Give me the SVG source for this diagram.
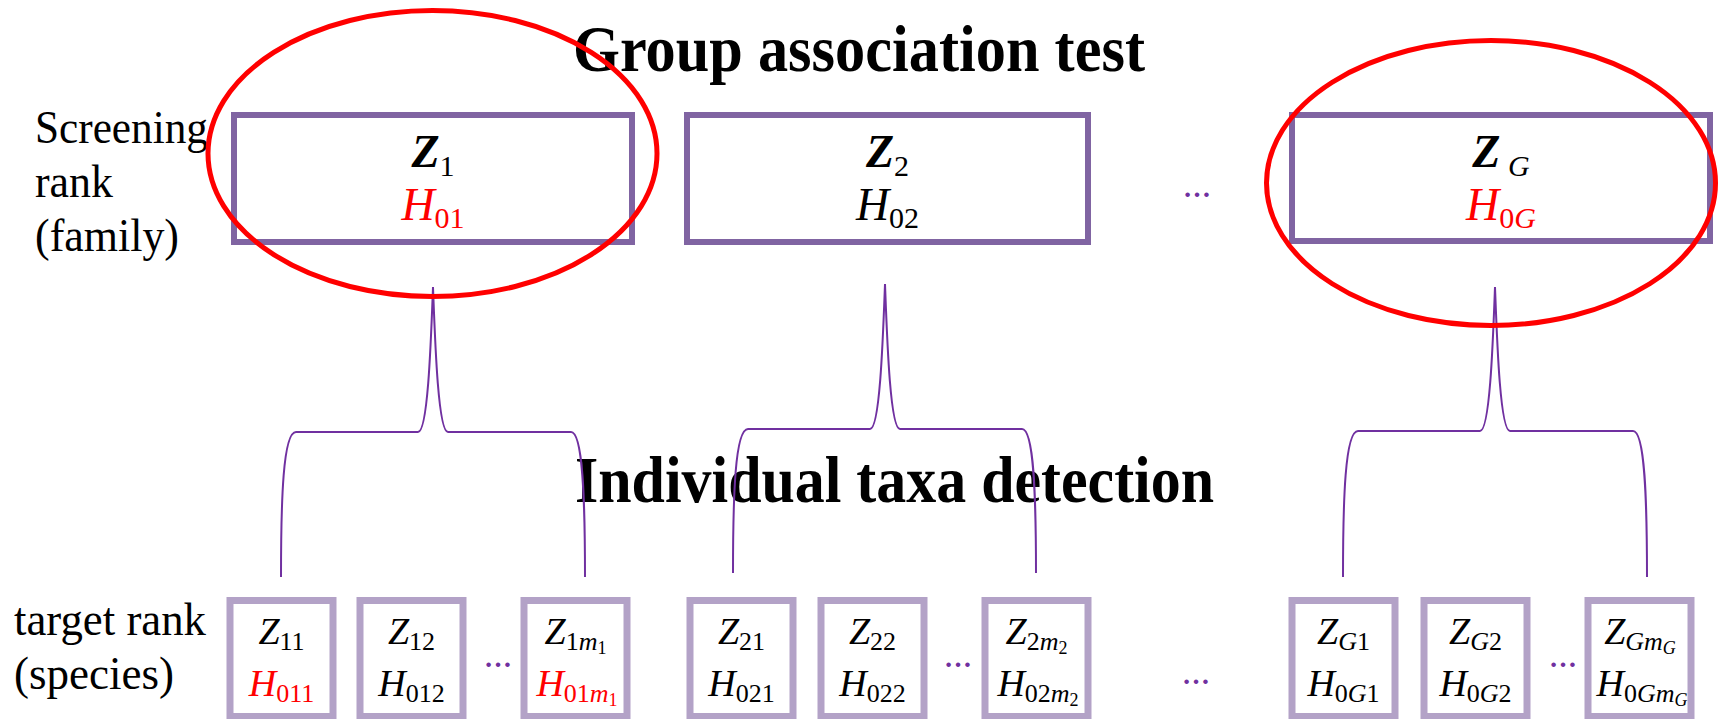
<svg xmlns="http://www.w3.org/2000/svg" width="1721" height="719" viewBox="0 0 1721 719">
<style>
text{font-family:"Liberation Serif","Times New Roman",serif;fill:#000}
.title{font-size:65px;font-weight:bold}
.lab{font-size:47px}
.zb{font-size:46px;font-weight:bold;font-style:italic}
.hi{font-size:46px;font-style:italic}
.sub{font-size:30px}
.subi{font-size:30px;font-style:italic}
.bz{font-size:38px;font-style:italic}
.bs{font-size:26px}
.bsi{font-size:26px;font-style:italic}
.bss{font-size:18px}
.bssi{font-size:18px;font-style:italic}
.red{fill:#FF0000}
.dots{font-size:28px;font-weight:bold;fill:#7030A0}
.top{fill:#fff;stroke:#8064A2;stroke-width:6}
.bot{fill:#fff;stroke:#B3A2C7;stroke-width:7}
.brace{fill:none;stroke:#7030A0;stroke-width:2}
.hl{fill:none;stroke:#FF0000;stroke-width:5}
</style>

<g id="titles">
<text class="title" x="573" y="71" textLength="572" lengthAdjust="spacingAndGlyphs">Group association test</text>
<text class="title" x="575" y="502" textLength="639" lengthAdjust="spacingAndGlyphs">Individual taxa detection</text>
</g>

<g id="labels">
<text class="lab" x="35" y="143" textLength="173" lengthAdjust="spacingAndGlyphs">Screening</text>
<text class="lab" x="35" y="197" textLength="78" lengthAdjust="spacingAndGlyphs">rank</text>
<text class="lab" x="35" y="251" textLength="144" lengthAdjust="spacingAndGlyphs">(family)</text>
<text class="lab" x="14" y="635" textLength="192" lengthAdjust="spacingAndGlyphs">target rank</text>
<text class="lab" x="14" y="689" textLength="160" lengthAdjust="spacingAndGlyphs">(species)</text>
</g>

<g id="family-1">
<rect class="top" x="234" y="115" width="398" height="127"/>
<text x="433" y="167" text-anchor="middle"><tspan class="zb">Z</tspan><tspan class="sub" dy="9">1</tspan></text>
<text x="433" y="220" text-anchor="middle"><tspan class="hi red">H</tspan><tspan class="sub red" dy="8">01</tspan></text>
</g>
<g id="family-2">
<rect class="top" x="687" y="115" width="401" height="127"/>
<text x="887.5" y="167" text-anchor="middle"><tspan class="zb">Z</tspan><tspan class="sub" dy="9">2</tspan></text>
<text x="887.5" y="220" text-anchor="middle"><tspan class="hi">H</tspan><tspan class="sub" dy="8">02</tspan></text>
</g>
<g id="family-dots">
<text class="dots" x="1197" y="197" text-anchor="middle">…</text>
</g>
<g id="family-G">
<rect class="top" x="1292" y="115" width="418" height="126"/>
<text x="1501" y="167" text-anchor="middle"><tspan class="zb">Z</tspan><tspan class="subi" dy="9"> G</tspan></text>
<text x="1501" y="220" text-anchor="middle"><tspan class="hi red">H</tspan><tspan class="sub red" dy="8">0</tspan><tspan class="subi red">G</tspan></text>
</g>

<g id="species-11">
<rect class="bot" x="230" y="600.5" width="103" height="116"/>
<text x="281.5" y="644" text-anchor="middle"><tspan class="bz">Z</tspan><tspan class="bs" dy="6">11</tspan></text>
<text x="281.5" y="696" text-anchor="middle"><tspan class="bz red">H</tspan><tspan class="bs red" dy="6">011</tspan></text>
</g>
<g id="species-12">
<rect class="bot" x="360" y="600.5" width="103" height="116"/>
<text x="411.5" y="644" text-anchor="middle"><tspan class="bz">Z</tspan><tspan class="bs" dy="6">12</tspan></text>
<text x="411.5" y="696" text-anchor="middle"><tspan class="bz">H</tspan><tspan class="bs" dy="6">012</tspan></text>
</g>
<g id="dots-1"><text class="dots" x="498" y="667" text-anchor="middle">…</text></g>
<g id="species-1m1">
<rect class="bot" x="524" y="600.5" width="103" height="116"/>
<text x="575.5" y="644" text-anchor="middle"><tspan class="bz">Z</tspan><tspan class="bs" dy="6">1</tspan><tspan class="bsi">m</tspan><tspan class="bss" dy="4">1</tspan></text>
<text x="577" y="696" text-anchor="middle"><tspan class="bz red">H</tspan><tspan class="bs red" dy="6">01</tspan><tspan class="bsi red">m</tspan><tspan class="bss red" dy="4">1</tspan></text>
</g>

<g id="species-21">
<rect class="bot" x="690" y="600.5" width="103" height="116"/>
<text x="741.5" y="644" text-anchor="middle"><tspan class="bz">Z</tspan><tspan class="bs" dy="6">21</tspan></text>
<text x="741.5" y="696" text-anchor="middle"><tspan class="bz">H</tspan><tspan class="bs" dy="6">021</tspan></text>
</g>
<g id="species-22">
<rect class="bot" x="821" y="600.5" width="103" height="116"/>
<text x="872.5" y="644" text-anchor="middle"><tspan class="bz">Z</tspan><tspan class="bs" dy="6">22</tspan></text>
<text x="872.5" y="696" text-anchor="middle"><tspan class="bz">H</tspan><tspan class="bs" dy="6">022</tspan></text>
</g>
<g id="dots-2"><text class="dots" x="958" y="667" text-anchor="middle">…</text></g>
<g id="species-2m2">
<rect class="bot" x="985" y="600.5" width="103" height="116"/>
<text x="1036.5" y="644" text-anchor="middle"><tspan class="bz">Z</tspan><tspan class="bs" dy="6">2</tspan><tspan class="bsi">m</tspan><tspan class="bss" dy="4">2</tspan></text>
<text x="1038" y="696" text-anchor="middle"><tspan class="bz">H</tspan><tspan class="bs" dy="6">02</tspan><tspan class="bsi">m</tspan><tspan class="bss" dy="4">2</tspan></text>
</g>

<g id="dots-mid"><text class="dots" x="1196" y="684" text-anchor="middle">…</text></g>

<g id="species-G1">
<rect class="bot" x="1292" y="600.5" width="103" height="116"/>
<text x="1343.5" y="644" text-anchor="middle"><tspan class="bz">Z</tspan><tspan class="bsi" dy="6">G</tspan><tspan class="bs">1</tspan></text>
<text x="1343.5" y="696" text-anchor="middle"><tspan class="bz">H</tspan><tspan class="bs" dy="6">0</tspan><tspan class="bsi">G</tspan><tspan class="bs">1</tspan></text>
</g>
<g id="species-G2">
<rect class="bot" x="1424" y="600.5" width="103" height="116"/>
<text x="1475.5" y="644" text-anchor="middle"><tspan class="bz">Z</tspan><tspan class="bsi" dy="6">G</tspan><tspan class="bs">2</tspan></text>
<text x="1475.5" y="696" text-anchor="middle"><tspan class="bz">H</tspan><tspan class="bs" dy="6">0</tspan><tspan class="bsi">G</tspan><tspan class="bs">2</tspan></text>
</g>
<g id="dots-3"><text class="dots" x="1563" y="667" text-anchor="middle">…</text></g>
<g id="species-GmG">
<rect class="bot" x="1588" y="600.5" width="103" height="116"/>
<text x="1640" y="644" text-anchor="middle"><tspan class="bz">Z</tspan><tspan class="bsi" dy="6">Gm</tspan><tspan class="bssi" dy="4">G</tspan></text>
<text x="1642" y="696" text-anchor="middle"><tspan class="bz">H</tspan><tspan class="bs" dy="6">0</tspan><tspan class="bsi">Gm</tspan><tspan class="bssi" dy="4">G</tspan></text>
</g>

<g id="connectors">
<path class="brace" d="M281,577 C281,500 283,432 296,432 L418,432 C428,432 431,340 433,287 C435,340 438,432 448,432 L571,432 C583,432 585,500 585,577"/>
<path class="brace" d="M733,573 C733,496 735,429 748,429 L870,429 C880,429 883,337 885,284 C887,337 890,429 900,429 L1022,429 C1034,429 1036,496 1036,573"/>
<path class="brace" d="M1343,577 C1343,500 1345,431 1358,431 L1480,431 C1490,431 1493,340 1495,287 C1497,340 1500,431 1510,431 L1633,431 C1645,431 1647,500 1647,577"/>
</g>

<g id="highlights">
<ellipse class="hl" cx="432.5" cy="153.5" rx="224.5" ry="143"/>
<ellipse class="hl" cx="1491" cy="183" rx="224.5" ry="142.5"/>
</g>
</svg>
